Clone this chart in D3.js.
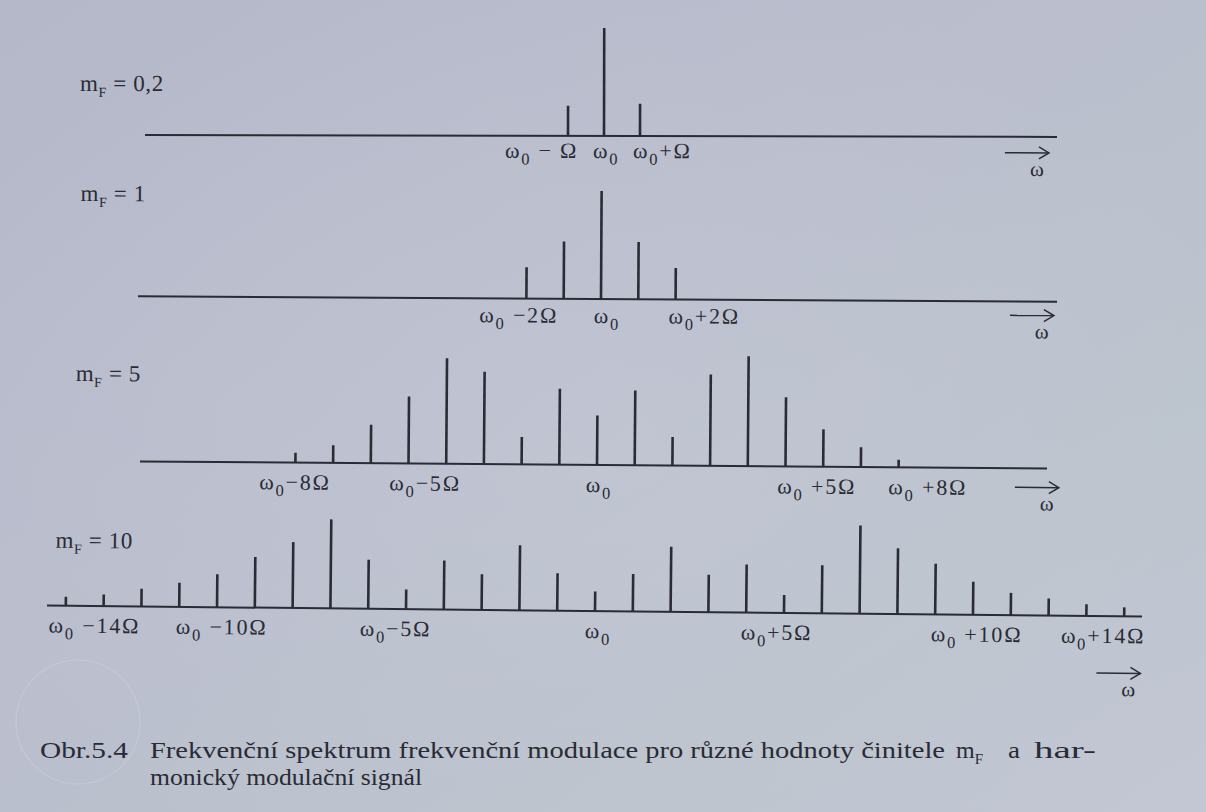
<!DOCTYPE html>
<html>
<head>
<meta charset="utf-8">
<script src="https://cdn.jsdelivr.net/npm/d3@7/dist/d3.min.js"></script>
<style>
  html, body { margin: 0; padding: 0; background: #b9bdcc; }
  svg { display: block; }
</style>
</head>
<body>
<svg id="fig" width="1206" height="812"></svg>
<script>
// ---- Spectrum data: sideband order n (ω0 + nΩ) and relative line amplitude ----
const panelTitles = ["0,2", "1", "5", "10"];

const orders1 = [-1, 0, 1];
const amps1   = [0.28, 1.00, 0.30];

const orders2 = [-2, -1, 0, 1, 2];
const amps2   = [0.29, 0.53, 1.00, 0.53, 0.29];

const orders3 = [-8, -7, -6, -5, -4, -3, -2, -1, 0, 1, 2, 3, 4, 5, 6, 7, 8];
const amps3   = [0.09, 0.16, 0.35, 0.61, 0.96, 0.84, 0.25, 0.69, 0.45,
                 0.68, 0.26, 0.83, 1.00, 0.63, 0.34, 0.18, 0.07];

const orders4 = [-14, -13, -12, -11, -10, -9, -8, -7, -6, -5, -4, -3, -2, -1, 0,
                 1, 2, 3, 4, 5, 6, 7, 8, 9, 10, 11, 12, 13, 14];
const amps4   = [0.10, 0.13, 0.20, 0.27, 0.37, 0.57, 0.74, 1.00, 0.55, 0.22, 0.55, 0.40, 0.73, 0.42, 0.22,
                 0.42, 0.73, 0.42, 0.54, 0.20, 0.54, 0.99, 0.74, 0.57, 0.37, 0.25, 0.19, 0.13, 0.10];

// Frequency tick labels (order n, text after "ω0")
const ticks1 = [[-1, " − Ω"], [0, ""], [1, "+Ω"]];
const ticks2 = [[-2, " −2Ω"], [0, ""], [2, "+2Ω"]];
const ticks3 = [[-8, "−8Ω"], [-5, "−5Ω"], [0, ""], [5, " +5Ω"], [8, " +8Ω"]];
const ticks4 = [[-14, " −14Ω"], [-10, " −10Ω"], [-5, "−5Ω"], [0, ""], [5, "+5Ω"], [10, " +10Ω"], [14, "+14Ω"]];

const captionNumber = "Obr.5.4";
const captionLine1 = "Frekvenční spektrum frekvenční modulace pro různé hodnoty činitele";
const captionTailA = "a";
const captionTailB = "har-";
const captionLine2 = "monický modulační signál";

// ---- Layout of the four stacked spectra ----
const layout = [
  { base: 136, x0: 145, x1: 1057, c: 604, step: 36.0, peak: 108, tilt: 0.12,
    titleX: 80, titleY: 92, labelY: 158, arrowX: 1005, arrowY: 152,
    nudge: [-63, -11, -7] },
  { base: 299, x0: 138, x1: 1057, c: 601, step: 37.3, peak: 108, tilt: 0.33,
    titleX: 80, titleY: 204, labelY: 323, arrowX: 1010, arrowY: 313,
    nudge: [-47, -7, -7] },
  { base: 465, x0: 140, x1: 1047, c: 597, step: 37.7, peak: 110, tilt: 0.45,
    titleX: 75, titleY: 385, labelY: 492, arrowX: 1015, arrowY: 484,
    nudge: [-36, -19, -11, -8, -10] },
  { base: 611, x0: 47, x1: 1142, c: 595, step: 37.8, peak: 89, tilt: 0.57,
    titleX: 55, titleY: 553, labelY: 638, arrowX: 1097, arrowY: 668,
    nudge: [-17, -41, -46, -10, -43, -42, -63] }
];

const series = [
  { orders: orders1, amps: amps1, ticks: ticks1 },
  { orders: orders2, amps: amps2, ticks: ticks2 },
  { orders: orders3, amps: amps3, ticks: ticks3 },
  { orders: orders4, amps: amps4, ticks: ticks4 }
];

const ink = "#2a2b34";
const serif = "'Liberation Serif', 'Times New Roman', serif";
const tickSize = 22;

const svg = d3.select("#fig");
const W = 1206, H = 812;

// ---- Paper ----
const defs = svg.append("defs");
const lg = defs.append("linearGradient").attr("id", "paper")
  .attr("x1", "0").attr("y1", "0").attr("x2", "1").attr("y2", "1");
lg.append("stop").attr("offset", "0").attr("stop-color", "#b5b8c9");
lg.append("stop").attr("offset", "0.45").attr("stop-color", "#babecd");
lg.append("stop").attr("offset", "0.75").attr("stop-color", "#bcc4cd");
lg.append("stop").attr("offset", "1").attr("stop-color", "#c3c7d4");
svg.append("rect").attr("width", W).attr("height", H).attr("fill", "url(#paper)");

const rg = defs.append("radialGradient").attr("id", "glow")
  .attr("cx", "0.5").attr("cy", "0.55").attr("r", "0.6");
rg.append("stop").attr("offset", "0").attr("stop-color", "#c8cbd8").attr("stop-opacity", 0.45);
rg.append("stop").attr("offset", "1").attr("stop-color", "#c8cbd8").attr("stop-opacity", 0);
svg.append("rect").attr("width", W).attr("height", H).attr("fill", "url(#glow)");

// faint round stamp impression near the caption
svg.append("circle").attr("cx", 78).attr("cy", 722).attr("r", 62)
  .attr("fill", "none").attr("stroke", "#cfd1dc").attr("stroke-width", 1.5).attr("opacity", 0.45);

// ---- Helpers ----
function omegaLabel(sel, rest, size) {
  sel.append("tspan").text("ω");
  sel.append("tspan").text("0").attr("font-size", size * 0.75).attr("dy", size * 0.3);
  if (rest) sel.append("tspan").text(rest).attr("dy", -size * 0.3);
}

function arrow(g, x, y, label) {
  const len = 44;
  g.append("line").attr("x1", x).attr("y1", y).attr("x2", x + len).attr("y2", y)
    .attr("stroke", ink).attr("stroke-width", 1.5);
  g.append("path")
    .attr("d", d3.line()([[x + len - 10, y - 6], [x + len, y], [x + len - 10, y + 6]]))
    .attr("fill", "none").attr("stroke", ink).attr("stroke-width", 1.5);
  g.append("text").attr("x", x + len - 12).attr("y", y + 23)
    .attr("font-family", serif).attr("font-size", 21).attr("fill", ink)
    .attr("text-anchor", "middle").text(label);
}

// ---- Draw each spectrum ----
series.forEach((s, i) => {
  const L = layout[i];
  const g = svg.append("g")
    .attr("transform", `rotate(${L.tilt}, ${L.c}, ${L.base})`);

  // ω axis: sideband order → horizontal position
  const x = d3.scaleLinear().domain([0, 1]).range([L.c, L.c + L.step]);
  // amplitude → line height
  const y = d3.scaleLinear().domain([0, 1]).range([L.base, L.base - L.peak]);

  // panel title m_F = ...
  const t = g.append("text").attr("x", L.titleX).attr("y", L.titleY)
    .attr("font-family", serif).attr("font-size", 23).attr("fill", ink)
    .attr("letter-spacing", 0.6);
  t.append("tspan").text("m");
  t.append("tspan").text("F").attr("font-size", 14).attr("dy", 6);
  t.append("tspan").text(" = " + panelTitles[i]).attr("dy", -6);

  // frequency axis
  g.append("line").attr("x1", L.x0).attr("x2", L.x1)
    .attr("y1", y(0)).attr("y2", y(0))
    .attr("stroke", ink).attr("stroke-width", 2);

  // spectral lines
  g.selectAll("line.spike")
    .data(s.orders.map((n, k) => ({ n, a: s.amps[k] })))
    .join("line").attr("class", "spike")
    .attr("x1", d => x(d.n)).attr("x2", d => x(d.n))
    .attr("y1", y(0)).attr("y2", d => y(d.a))
    .attr("stroke", ink).attr("stroke-width", 2.6);

  // frequency labels
  s.ticks.forEach(([n, rest], k) => {
    const lt = g.append("text")
      .attr("x", x(n) + L.nudge[k]).attr("y", L.labelY)
      .attr("font-family", serif).attr("font-size", tickSize).attr("fill", ink)
      .attr("letter-spacing", 1.8);
    omegaLabel(lt, rest, tickSize);
  });

  arrow(g, L.arrowX, L.arrowY, "ω");
});

// ---- Caption ----
const capFont = 24;
function capText(xp, yp, str, len, adjust) {
  return svg.append("text").attr("x", xp).attr("y", yp)
    .attr("font-family", serif).attr("font-size", capFont).attr("fill", ink)
    .attr("textLength", len).attr("lengthAdjust", adjust || "spacingAndGlyphs")
    .text(str);
}
capText(40, 758, captionNumber, 88);
capText(150, 758, captionLine1, 795);
const mF = svg.append("text").attr("x", 956).attr("y", 758)
  .attr("font-family", serif).attr("font-size", capFont).attr("fill", ink);
mF.append("tspan").text("m");
mF.append("tspan").text("F").attr("font-size", 15).attr("dy", 6);
capText(1008, 758, captionTailA, 12);
capText(1034, 758, captionTailB, 62);
capText(150, 785, captionLine2, 272);
</script>
</body>
</html>
